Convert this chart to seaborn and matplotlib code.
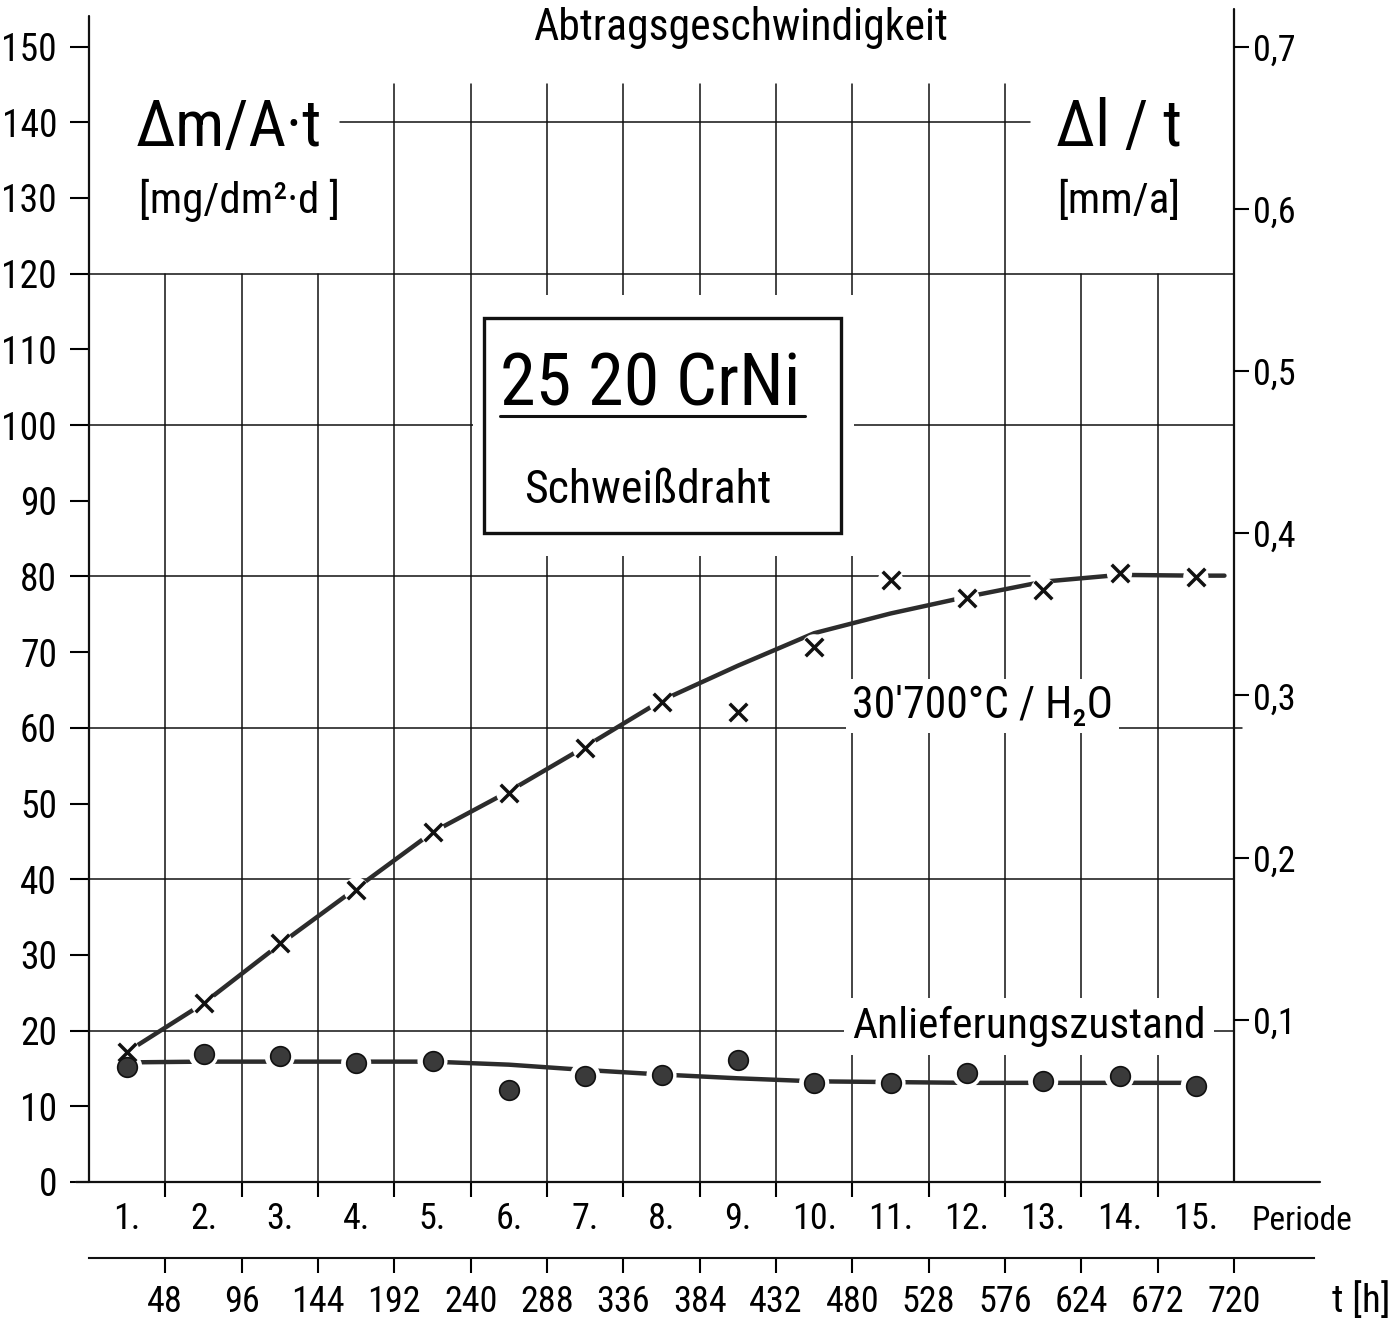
import matplotlib
matplotlib.use("Agg")
import matplotlib.pyplot as plt
import seaborn as sns
import pandas as pd
from matplotlib import font_manager
from matplotlib.font_manager import FontProperties
from matplotlib.patches import Rectangle
from matplotlib.lines import Line2D

# --- Werte ---
perioden = list(range(1, 16))
t_mitte = [24, 72, 120, 168, 216, 264, 312, 360, 408, 456, 504, 552, 600, 648, 696]  # Periodenmitte [h]
t_ticks = [48, 96, 144, 192, 240, 288, 336, 384, 432, 480, 528, 576, 624, 672, 720]

# Messpunkte Delta m / A t  [mg/dm2 d]
wert_h2o = [17.2, 23.6, 31.6, 38.6, 46.2, 51.4, 57.3, 63.4, 62.1, 70.7, 79.5, 77.1, 78.2, 80.4, 79.9]
wert_anl = [15.2, 16.9, 16.6, 15.7, 16.0, 12.2, 14.0, 14.1, 16.1, 13.1, 13.1, 14.4, 13.3, 14.0, 12.7]

# von Hand gezogene Ausgleichskurven
kurve_h2o_t = t_mitte + [714]
kurve_h2o = [17.2, 23.6, 31.4, 38.8, 46.2, 51.6, 57.5, 63.6, 68.2, 72.5, 75.1, 77.3, 79.3, 80.2, 80.1, 80.1]
kurve_anl = [15.8, 15.9, 15.9, 15.9, 15.9, 15.5, 14.8, 14.2, 13.7, 13.3, 13.2, 13.1, 13.1, 13.1, 13.1]

y_ticks = list(range(0, 151, 10))
mm_ticks = [0.1, 0.2, 0.3, 0.4, 0.5, 0.6, 0.7]
mm_labels = ["0,1", "0,2", "0,3", "0,4", "0,5", "0,6", "0,7"]
MG_PRO_MM = 215  # 0,1 mm/a ~ 21,5 mg/dm2 d

# --- Stil ---
sns.set_theme(style="white")
plt.rcParams["font.family"] = ["DejaVu Sans"]
plt.rcParams["text.color"] = "black"
plt.rcParams["xtick.color"] = "black"
plt.rcParams["ytick.color"] = "black"

# schmale Schrift (wie Normschrift), falls vorhanden
namen = {f.name for f in font_manager.fontManager.ttflist}
schmal = [n for n in ("Liberation Sans Narrow", "DejaVu Sans Condensed", "Roboto Condensed") if n in namen]
dv_cond = any(f.name == "DejaVu Sans" and f.stretch == "condensed" for f in font_manager.fontManager.ttflist)
FAM = schmal[0] if schmal else "DejaVu Sans"
fak = 1.0 if (schmal or dv_cond) else 0.83


def schrift(size):
    return FontProperties(family=FAM, stretch="condensed", size=size * fak)


W, H = 1391, 1328
fig = plt.figure(figsize=(W / 100, H / 100), dpi=100)
fig.patch.set_facecolor("white")


def px(x, y):
    return x / W, 1 - y / H


ax = fig.add_axes([89 / W, (H - 1182) / H, (1234 - 89) / W, (1182 - 46.5) / H])
ax.set_xlim(0, 720)
ax.set_ylim(0, 150)
for s in ax.spines.values():
    s.set_visible(False)
ax.grid(False)

SCHWARZ = "#111111"
LW_GRID = 1.1

# Achsenlinien
ax.plot([0, 0], [0, 154], color=SCHWARZ, lw=1.6, clip_on=False, zorder=2)
ax.plot([720, 720], [0, 155], color=SCHWARZ, lw=1.6, clip_on=False, zorder=2)
ax.plot([-8, 774], [0, 0], color=SCHWARZ, lw=1.6, clip_on=False, zorder=2)

# Gitter
for t in t_ticks[:-1]:
    oben = 120 if (t < 192 or t > 576) else 145
    ax.plot([t, t], [0, oben], color=SCHWARZ, lw=LW_GRID, zorder=1, clip_on=False)
for y, von, bis in [(140, 158, 592), (120, 0, 720), (100, 0, 720), (80, 0, 592),
                    (60, 0, 725), (40, 0, 720), (20, 0, 720)]:
    ax.plot([von, bis], [y, y], color=SCHWARZ, lw=LW_GRID, zorder=1, clip_on=False)

# Kasten mit Werkstoffangabe
ax.add_patch(Rectangle((241.5, 82.7), 481 - 241.5, 117.2 - 82.7, facecolor="white",
                       edgecolor="none", zorder=1.5))
ax.add_patch(Rectangle((248.4, 85.7), 472.9 - 248.4, 114.1 - 85.7, facecolor="white",
                       edgecolor=SCHWARZ, lw=2.4, zorder=1.6))

# Kurven
df_h2o = pd.DataFrame({"t": kurve_h2o_t, "wert": kurve_h2o})
df_anl = pd.DataFrame({"t": t_mitte, "wert": kurve_anl})
sns.lineplot(data=df_h2o, x="t", y="wert", ax=ax, color="#2c2c2c", lw=3.2, zorder=2, sort=False)
sns.lineplot(data=df_anl, x="t", y="wert", ax=ax, color="#2c2c2c", lw=3.2, zorder=2, sort=False)

# Messpunkte mit weissem Hof
sns.scatterplot(x=t_mitte, y=wert_h2o, ax=ax, s=330, color="white", edgecolor="none", zorder=3)
sns.scatterplot(x=t_mitte, y=wert_anl, ax=ax, s=470, color="white", edgecolor="none", zorder=3)
sns.scatterplot(x=t_mitte, y=wert_h2o, ax=ax, marker="x", s=160, color=SCHWARZ, linewidth=2.5, zorder=4)
sns.scatterplot(x=t_mitte, y=wert_anl, ax=ax, s=200, color="#3a3a3a", edgecolor=SCHWARZ,
                linewidth=1.2, zorder=4)
ax.set_xlabel("")
ax.set_ylabel("")

# linke Achse
ax.set_yticks(y_ticks)
ax.set_yticklabels([str(v) for v in y_ticks], fontproperties=schrift(27))
ax.tick_params(axis="y", left=True, direction="out", length=14, width=1.5, pad=9)

# Perioden
ax.set_xticks(t_ticks[:-1])
ax.set_xticklabels([])
ax.set_xticks(t_mitte, minor=True)
ax.set_xticklabels([f"{p}." for p in perioden], minor=True, fontproperties=schrift(26))
ax.tick_params(axis="x", which="major", bottom=True, direction="out", length=11, width=1.5)
ax.tick_params(axis="x", which="minor", bottom=True, length=0, pad=14)

# rechte Achse (mm/a)
ax2 = ax.twinx()
ax2.set_ylim(0, 150 / MG_PRO_MM)
ax2.set_yticks(mm_ticks)
ax2.set_yticklabels(mm_labels, fontproperties=schrift(26))
ax2.tick_params(axis="y", right=True, direction="out", length=11, width=1.5, pad=3)
for s in ax2.spines.values():
    s.set_visible(False)
ax2.grid(False)

# Zeitachse in Stunden
ax_t = fig.add_axes([89 / W, (H - 1258) / H, (1314 - 89) / W, 1e-4])
ax_t.set_xlim(0, 720 * (1314 - 89) / (1234 - 89))
ax_t.set_yticks([])
for side in ["left", "right", "top"]:
    ax_t.spines[side].set_visible(False)
ax_t.spines["bottom"].set_linewidth(1.5)
ax_t.spines["bottom"].set_color(SCHWARZ)
ax_t.patch.set_visible(False)
ax_t.set_xticks(t_ticks)
ax_t.set_xticklabels([str(t) for t in t_ticks], fontproperties=schrift(26))
ax_t.tick_params(axis="x", bottom=True, direction="out", length=11, width=1.5, pad=8)

# Beschriftungen
fig.text(*px(740, 40), "Abtragsgeschwindigkeit", fontproperties=schrift(31.5), ha="center", va="baseline")
fig.text(*px(136, 146), "Δm/A·t", fontproperties=schrift(47), ha="left", va="baseline")
fig.text(*px(139, 213), "[mg/dm²·d ]", fontproperties=schrift(31), ha="left", va="baseline")
fig.text(*px(1056, 146), "Δl / t", fontproperties=schrift(46), ha="left", va="baseline")
fig.text(*px(1057, 213), "[mm/a]", fontproperties=schrift(31), ha="left", va="baseline")
fig.text(*px(500, 406), "25 20 CrNi", fontproperties=schrift(52), ha="left", va="baseline")
fig.add_artist(Line2D([500 / W, 805 / W], [1 - 416 / H, 1 - 416 / H], color=SCHWARZ, lw=2.2))
fig.text(*px(524, 503), "Schweißdraht", fontproperties=schrift(33), ha="left", va="baseline")
fig.text(*px(852, 718), "30'700°C / H₂O", fontproperties=schrift(31.5), ha="left", va="baseline",
         bbox=dict(facecolor="white", edgecolor="none", pad=4))
fig.text(*px(852, 1038), "Anlieferungszustand", fontproperties=schrift(31.3), ha="left", va="baseline",
         bbox=dict(facecolor="white", edgecolor="none", pad=6))
fig.text(*px(1252, 1230), "Periode", fontproperties=schrift(24), ha="left", va="baseline")
fig.text(*px(1332, 1312), "t [h]", fontproperties=schrift(28), ha="left", va="baseline")

fig.savefig("out.png", dpi=100)
